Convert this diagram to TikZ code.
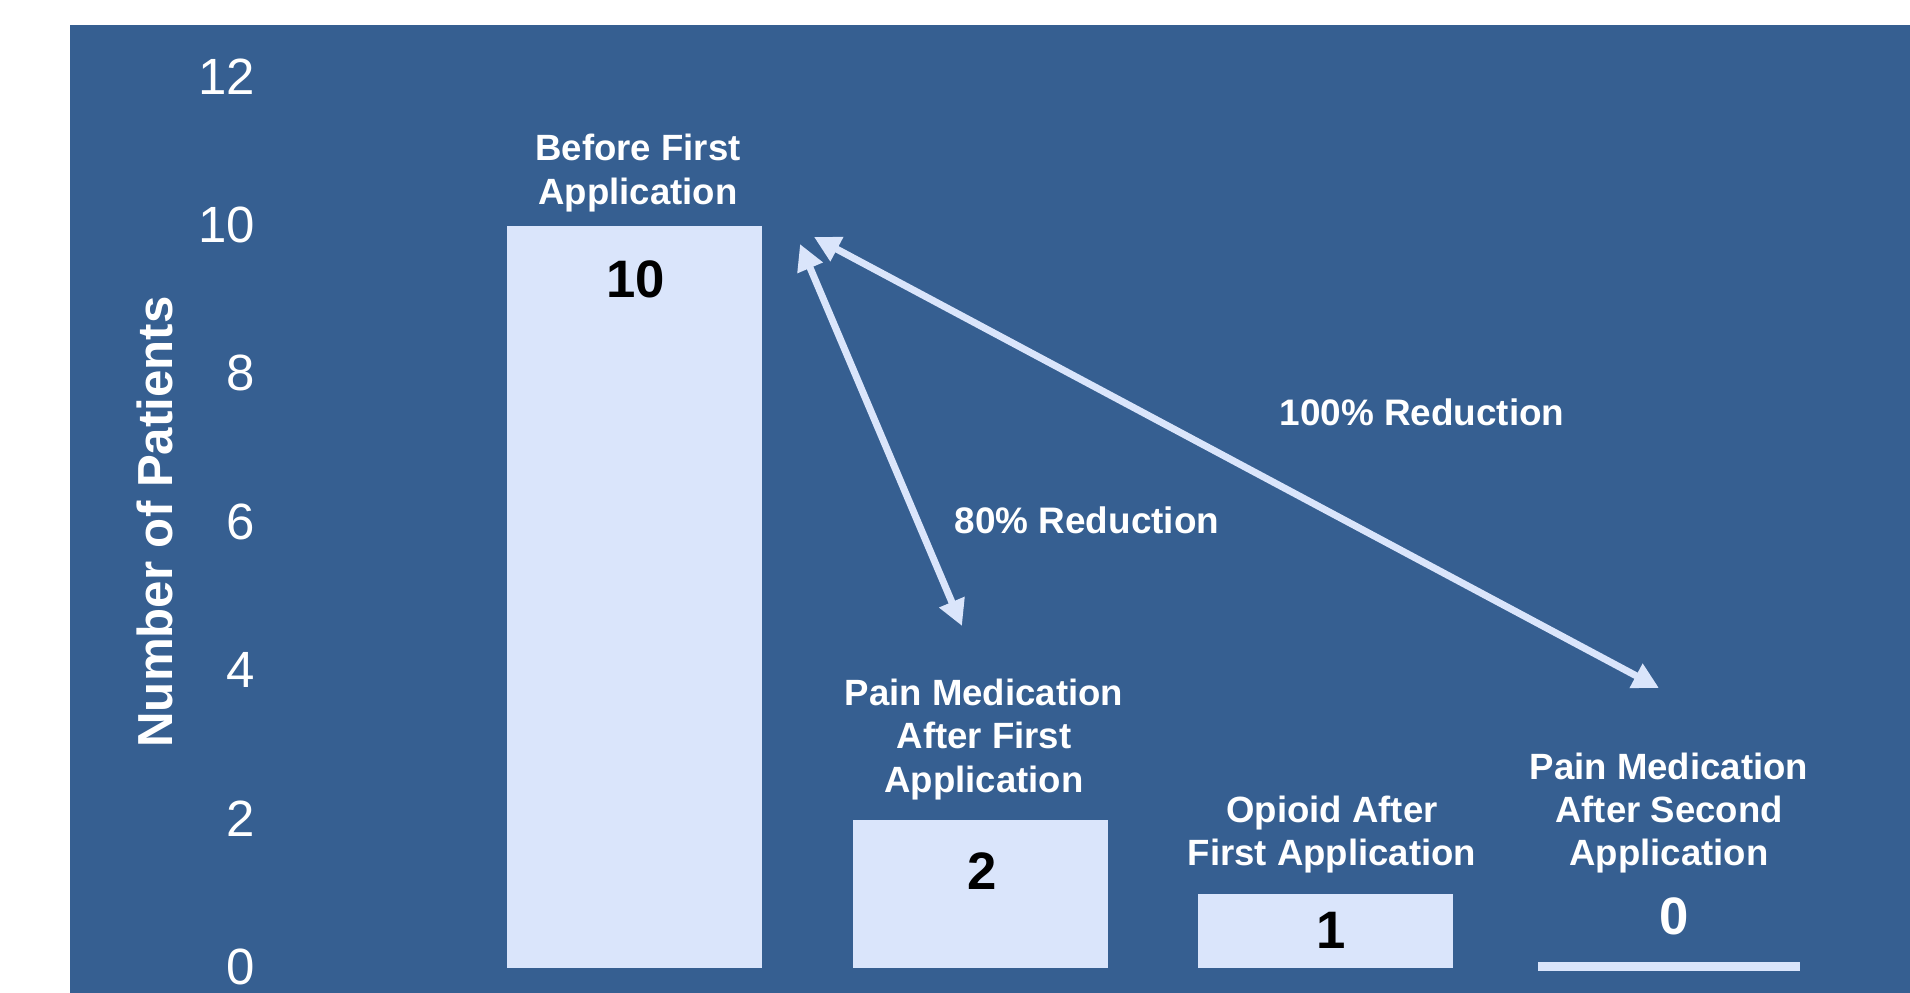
\documentclass[tikz,border=0pt]{standalone}
\usepackage{fontspec}
\setmainfont{Liberation Sans}
\usepackage{tikz}
\usetikzlibrary{arrows.meta,positioning}
\definecolor{chBlue}{HTML}{365F91}
\definecolor{chBar}{HTML}{DAE5FB}

\begin{document}
\begin{tikzpicture}[
  bar/.style={fill=chBar, draw=none, anchor=south west, minimum width=2.55cm, inner sep=0pt, outer sep=0pt},
  cat/.style={text=white, font=\bfseries\fontsize{10.4}{12.3}\selectfont, align=center, inner sep=0pt},
  val/.style={font=\bfseries\fontsize{15}{17}\selectfont, inner sep=0pt},
  ticklbl/.style={text=white, font=\fontsize{14.5}{16}\selectfont, anchor=east, inner sep=0pt},
  note/.style={text=white, font=\bfseries\fontsize{10.5}{12.5}\selectfont, inner sep=0pt},
  arr/.style={{Triangle[length=0.26cm,width=0.26cm]}-{Triangle[length=0.26cm,width=0.26cm]}, line width=0.07cm, color=chBar}
]
  \fill[white] (0,0) rectangle (19.10,9.93);
  \fill[chBlue] (0.70,0) rectangle (19.10,9.68);
  \useasboundingbox (0,0) rectangle (19.10,9.93);

  \node[rotate=90, text=white, font=\bfseries\fontsize{14}{16}\selectfont] (ytitle) at (1.55,4.71) {Number of Patients};
  \foreach \v in {0,2,...,12}
    \node[ticklbl] (t\v) at (2.56,{0.26+0.742*\v}) {\v};

  \node[bar, minimum height=7.42cm] (b1) at (5.07,0.25) {};
  \node[bar, minimum height=1.48cm] (b2) at (8.53,0.25) {};
  \node[bar, minimum height=0.74cm] (b3) at (11.98,0.25) {};
  \node[bar, minimum height=0.09cm, minimum width=2.62cm] (b4) at (15.38,0.22) {};

  \node[val] (v1) at ([xshift=0.01cm, yshift=-0.53cm]b1.north) {10};
  \node[val] (v2) at ([xshift=0.02cm, yshift=-0.51cm]b2.north) {2};
  \node[val] (v3) at ([xshift=0.06cm, yshift=-0.36cm]b3.north) {1};
  \node[val, text=white] (v4) at ([xshift=0.05cm, yshift=0.46cm]b4.north) {0};

  \node[cat] (c1) at (6.38,8.20) {Before First\\Application};
  \node[cat] (c2) at (9.84,2.535) {Pain Medication\\After First\\Application};
  \node[cat] (c3) at (13.32,1.585) {Opioid After\\First Application};
  \node[cat] (c4) at (16.69,1.80) {Pain Medication\\After Second\\Application};

  \coordinate (a1s) at (8.00,7.49);
  \coordinate (a1e) at (9.62,3.67);
  \coordinate (a2s) at (8.14,7.56);
  \coordinate (a2e) at (16.59,3.05);
  \draw[arr] (a1s) -- (a1e);
  \draw[arr] (a2s) -- (a2e);

  \node[note] (r80) at (10.87,4.73) {80\% Reduction};
  \node[note] (r100) at (14.22,5.81) {100\% Reduction};
\end{tikzpicture}
\end{document}
